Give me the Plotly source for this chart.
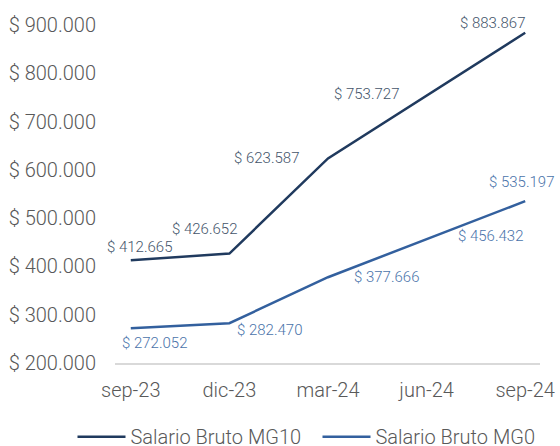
import plotly.graph_objects as go

categories = ["sep-23", "dic-23", "mar-24", "jun-24", "sep-24"]
mg10 = [412665, 426652, 623587, 753727, 883867]
mg0 = [272052, 282470, 377666, 456432, 535197]
series_names = ["Salario Bruto MG10", "Salario Bruto MG0"]
y_ticks = [200000, 300000, 400000, 500000, 600000, 700000, 800000, 900000]

# label offsets in pixels (style only)
mg10_shift = [(9, 13), (-25, 25), (-61, 0), (-60, 2), (-33, 10)]
mg0_shift = [(24, -15), (40, -7), (59, 0), (64, 3), (-4, 19)]

c10 = "#203a5e"
c0 = "#33609e"
t10 = "#44546a"
t0 = "#4a73aa"
fam = "Roboto Light, Roboto"

def fmt(v):
    return "$ " + f"{v:,}".replace(",", ".")

fig = go.Figure()
fig.add_trace(go.Scatter(x=categories, y=mg10, mode="lines", name=series_names[0],
                         line=dict(color=c10, width=2.5)))
fig.add_trace(go.Scatter(x=categories, y=mg0, mode="lines", name=series_names[1],
                         line=dict(color=c0, width=2.5)))

anns = []
for vals, shifts, col in [(mg10, mg10_shift, t10), (mg0, mg0_shift, t0)]:
    for c, v, (dx, dy) in zip(categories, vals, shifts):
        anns.append(dict(x=c, y=v, text=fmt(v), showarrow=False, xshift=dx, yshift=dy,
                         font=dict(family=fam, size=15, color=col, weight=300)))

fig.update_layout(
    width=560, height=446,
    margin=dict(l=115, r=20, t=25, b=83, autoexpand=False),
    paper_bgcolor="white", plot_bgcolor="white",
    font=dict(family=fam, size=20, color="#595959", weight=300),
    annotations=anns,
    showlegend=True,
    legend=dict(orientation="h", x=-0.10, xanchor="left", y=-0.218, yanchor="middle",
                font=dict(family=fam, size=20, color="#595959", weight=300),
                itemwidth=48, entrywidth=182, entrywidthmode="pixels"),
    xaxis=dict(type="category", range=[-0.16, 4.15], showgrid=False, showline=True,
               linecolor="#d9d9d9", linewidth=1.5, ticks="", ticklabelstandoff=8,
               zeroline=False, automargin=False),
    yaxis=dict(range=[200000, 900000], tickvals=y_ticks,
               ticktext=[fmt(v) for v in y_ticks], showgrid=False, showline=False,
               zeroline=False, ticks="", ticklabelstandoff=18, automargin=False),
)

fig.write_html("out.html", config={"displayModeBar": False},
               post_script="document.body.style.margin='0';document.body.style.overflow='hidden';")
